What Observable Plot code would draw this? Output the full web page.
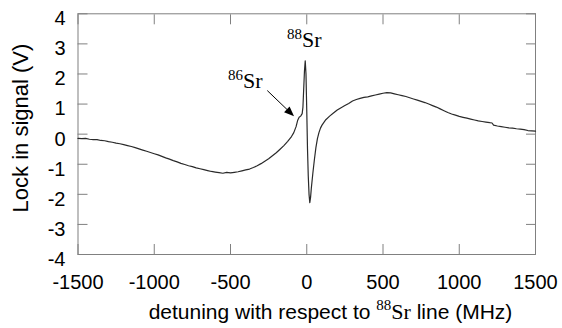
<!DOCTYPE html>
<html><head><meta charset="utf-8">
<script src="https://cdn.jsdelivr.net/npm/d3@7"></script>
<script src="https://cdn.jsdelivr.net/npm/@observablehq/plot@0.6"></script>
<style>html,body{margin:0;padding:0;background:#fff} svg{display:block}</style>
</head><body><div id="chart"></div>
<script>
const detuning = [-1500,-1475,-1450,-1425,-1400,-1375,-1350,-1325,-1300,-1275,-1250,-1225,-1200,-1175,-1150,-1125,-1100,-1075,-1050,-1025,-1000,-975,-950,-925,-900,-875,-850,-825,-800,-775,-750,-725,-700,-675,-650,-625,-600,-575,-550,-525,-500,-475,-450,-425,-400,-375,-350,-325,-300,-275,-250,-225,-200,-175,-150,-125,-100,-85,-70,-60,-50,-40,-30,-25,-20,-15,-10,-5,0,5,10,15,20,25,30,40,50,60,70,80,90,100,125,150,175,200,225,250,275,300,325,350,375,400,425,450,475,500,525,550,575,600,625,650,675,700,725,750,775,800,825,850,875,900,925,950,975,1000,1025,1050,1075,1100,1125,1150,1175,1200,1215,1225,1250,1275,1300,1325,1350,1375,1400,1425,1450,1475,1500];
const signal = [-0.14,-0.15,-0.14,-0.17,-0.18,-0.18,-0.21,-0.22,-0.25,-0.27,-0.30,-0.32,-0.35,-0.38,-0.41,-0.45,-0.49,-0.53,-0.57,-0.61,-0.65,-0.69,-0.74,-0.79,-0.83,-0.88,-0.92,-0.97,-1.01,-1.05,-1.08,-1.12,-1.15,-1.18,-1.21,-1.24,-1.26,-1.28,-1.30,-1.27,-1.29,-1.27,-1.25,-1.22,-1.19,-1.16,-1.11,-1.05,-0.98,-0.90,-0.82,-0.72,-0.62,-0.50,-0.38,-0.24,-0.08,0.05,0.25,0.45,0.56,0.60,0.68,0.90,1.50,2.10,2.44,2.00,0.80,-0.50,-1.40,-2.00,-2.28,-2.10,-1.80,-1.30,-0.85,-0.45,-0.15,0.05,0.20,0.30,0.48,0.60,0.70,0.80,0.88,0.95,1.02,1.10,1.15,1.19,1.22,1.24,1.27,1.30,1.33,1.36,1.38,1.37,1.34,1.31,1.28,1.25,1.21,1.17,1.13,1.09,1.05,1.00,0.95,0.90,0.84,0.78,0.72,0.67,0.63,0.59,0.56,0.53,0.50,0.47,0.44,0.42,0.40,0.38,0.37,0.30,0.27,0.25,0.23,0.21,0.20,0.18,0.17,0.15,0.12,0.11,0.10];
const xTicks = [-1500,-1000,-500,0,500,1000,1500];
const yTicks = [-4,-3,-2,-1,0,1,2,3,4];
const isotopeLabels = [
  {mass:"88", element:"Sr", x:-126, y:2.88},
  {mass:"86", element:"Sr", x:-513, y:1.51}
];
const arrows = [{x1:-257, y1:1.44, x2:-80, y2:0.58}];
const xTitle = ["detuning with respect to ", "88", "Sr", " line (MHz)"];
const yTitle = "Lock in signal (V)";

const data = detuning.map((d, i) => ({x: d, y: signal[i]}));
const gray = "#808080";

const chart = Plot.plot({
  width: 562, height: 328,
  marginLeft: 77.5, marginRight: 27, marginTop: 13.3, marginBottom: 74,
  style: {fontFamily: "'Liberation Sans', Arial, sans-serif", fontSize: "20px", color: "#000", background: "#fff", overflow: "visible"},
  x: {domain: [-1500, 1500]},
  y: {domain: [-4, 4]},
  marks: [
    Plot.axisX(xTicks, {anchor: "bottom", tickSize: -10, stroke: gray, tickFormat: () => "", label: null}),
    Plot.axisX(xTicks, {anchor: "top", tickSize: -10, stroke: gray, tickFormat: () => "", label: null}),
    Plot.axisY(yTicks, {anchor: "left", tickSize: -10, stroke: gray, tickFormat: () => "", label: null}),
    Plot.axisY(yTicks, {anchor: "right", tickSize: -10, stroke: gray, tickFormat: () => "", label: null}),
    Plot.axisX(xTicks, {anchor: "bottom", tickSize: 0, tickPadding: 20, label: null, fill: "#000", tickFormat: d => String(d)}),
    Plot.axisY(yTicks, {anchor: "left", tickSize: 0, tickPadding: 12.5, dy: 5, label: null, fill: "#000", tickFormat: d => String(d)}),
    Plot.frame({stroke: gray}),
    Plot.line(data, {x: "x", y: "y", stroke: "#2a2a2a", strokeWidth: 1.2}),
    Plot.arrow(arrows, {x1: "x1", y1: "y1", x2: "x2", y2: "y2", stroke: "#000", strokeWidth: 1, headLength: 0, insetEnd: 6})
  ]
});

const svg = d3.select(chart);
const sx = chart.scale("x"), sy = chart.scale("y");

// filled arrow heads
for (const a of arrows) {
  const X1 = sx.apply(a.x1), Y1 = sy.apply(a.y1), X2 = sx.apply(a.x2), Y2 = sy.apply(a.y2);
  const ang = Math.atan2(Y2 - Y1, X2 - X1), L = 10, W = 4;
  const bx = X2 - L * Math.cos(ang), by = Y2 - L * Math.sin(ang);
  const px = -Math.sin(ang) * W, py = Math.cos(ang) * W;
  svg.append("path")
    .attr("d", `M${X2},${Y2}L${bx + px},${by + py}L${bx - px},${by - py}Z`)
    .attr("fill", "#000");
}

// isotope annotations
for (const a of isotopeLabels) {
  const t = svg.append("text")
    .attr("x", sx.apply(a.x)).attr("y", sy.apply(a.y))
    .attr("text-anchor", "start")
    .attr("font-family", "'Liberation Serif', 'Times New Roman', serif")
    .attr("fill", "#000");
  t.append("tspan").attr("font-size", 15).attr("dy", -8).text(a.mass);
  t.append("tspan").attr("font-size", 22).attr("dy", 8).text(a.element);
}

// x title
const xt = svg.append("text")
  .attr("x", 330.5).attr("y", 319)
  .attr("text-anchor", "middle")
  .attr("font-family", "'Liberation Sans', Arial, sans-serif")
  .attr("font-size", 21).attr("fill", "#000");
xt.append("tspan").text(xTitle[0]);
xt.append("tspan").attr("font-size", 15).attr("dy", -9).attr("font-family", "'Liberation Serif', serif").text(xTitle[1]);
xt.append("tspan").attr("dy", 9).attr("font-family", "'Liberation Serif', serif").attr("font-size", 22).text(xTitle[2]);
xt.append("tspan").text(xTitle[3]);

// y title
svg.append("text")
  .attr("transform", "translate(28,128) rotate(-90)")
  .attr("text-anchor", "middle")
  .attr("font-family", "'Liberation Sans', Arial, sans-serif")
  .attr("font-size", 22).attr("fill", "#000")
  .text(yTitle);

document.getElementById("chart").appendChild(chart);
</script>
</body></html>
